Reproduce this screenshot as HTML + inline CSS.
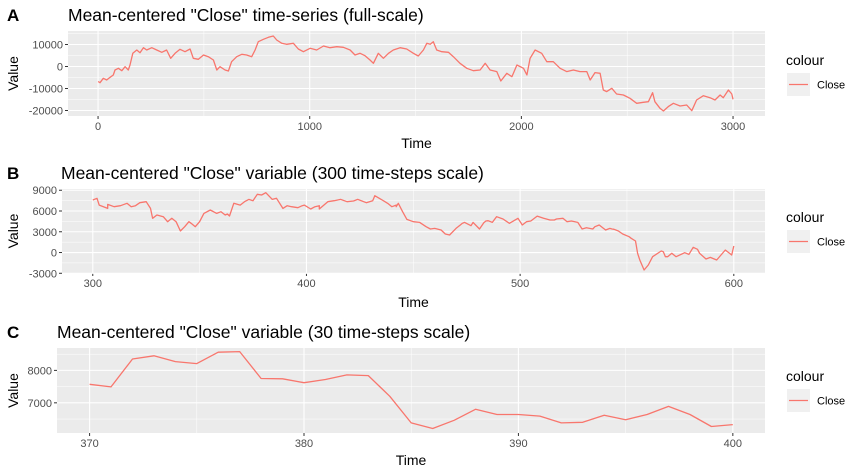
<!DOCTYPE html>
<html><head><meta charset="utf-8"><style>
html,body{margin:0;padding:0;background:#fff;}
svg{display:block;font-family:"Liberation Sans",Arial,sans-serif;}
</style></head><body>
<svg id="chart" width="863" height="475" viewBox="0 0 863 475" xmlns="http://www.w3.org/2000/svg"></svg>
<script>
// Panel A data (full-scale)
const stepsA=[0,9,25,41,57,72,80,96,112,128,143,151,164,183,198,214,230,254,277,301,324,343,364,387,411,435,450,474,498,521,545,561,576,600,616,631,655,679,702,726,742,757,781,805,828,844,868,891,923,946,970,1002,1033,1065,1096,1128,1159,1191,1214,1238,1261,1285,1301,1324,1348,1372,1395,1427,1458,1490,1513,1537,1553,1569,1584,1600,1624,1655,1679,1710,1742,1773,1805,1829,1852,1884,1903,1931,1955,1979,2010,2026,2041,2065,2096,2120,2151,2183,2214,2246,2277,2309,2325,2348,2372,2387,2403,2427,2450,2482,2513,2545,2576,2600,2620,2631,2655,2671,2694,2718,2750,2781,2805,2828,2860,2891,2915,2939,2954,2978,2994,3000];
const valuesA=[-6800,-7350,-5380,-6130,-4920,-3860,-1590,-830,-1890,-70,-1590,680,5990,7500,6290,8560,7500,8560,7500,6440,7500,3710,5990,7800,6740,7960,3710,3260,5230,4470,2960,-1590,-70,-1590,-2040,2200,4470,5530,5230,4470,7500,11290,12350,13260,13870,12050,10530,10080,10530,7960,6740,8260,7500,9320,8560,9020,8710,7500,5230,5990,4920,2960,1440,5990,3710,5990,7500,8560,7960,5990,4770,7500,10530,10080,11290,7500,6740,6440,4470,1440,-830,-1890,-1590,1440,-1590,-2340,-6590,-3100,-4620,680,-830,-3860,3710,7500,5990,2200,2200,-830,-2340,-1590,-2340,-2340,-6130,-2790,-3100,-10680,-11430,-9920,-12500,-12950,-14470,-16740,-16280,-15980,-11890,-15980,-19010,-20220,-18250,-16740,-17950,-17500,-20070,-15220,-13260,-14160,-15220,-12950,-14160,-10680,-12500,-14920];
const xTicksA=[0,1000,2000,3000];
const yTicksA=[-20000,-10000,0,10000];
// Panel B data (300 steps)
const stepsB=[300,302,303,307,307,310,313,316,318,320,322,325,327,328,330,333,335,336,337,339,341,343,345,346,348,350,352,355,358,360,362,363,364,366,369,371,373,375,377,379,381,384,386,389,391,393,396,398,399,402,404,406,406,410,413,416,419,422,424,428,431,432,435,438,440,442,442,443,445,447,450,453,456,458,460,463,465,467,470,472,473,474,477,478,481,483,484,485,487,489,492,495,499,501,503,505,508,511,514,516,517,520,522,524,527,529,531,534,535,537,540,542,543,544,546,548,551,552,554,555,556,558,560,562,566,567,568,569,571,573,577,579,581,583,584,587,589,592,594,596,598,599,600];
const valuesB=[7590,7830,6860,6380,6960,6620,6770,7110,6620,6770,7200,7350,6380,4940,5420,5180,4460,4700,4940,4460,3110,3730,4460,4220,3730,4460,5660,6140,5660,5900,5420,5560,5280,7110,6860,7350,7680,7490,8410,8310,8650,7680,7830,6380,6770,6620,6480,6770,6860,6290,6620,6770,6290,7350,7490,7680,7350,7440,7680,7200,7490,8210,7680,7110,6620,6860,6620,7110,5900,4790,4460,4360,3730,3400,3490,3250,2670,2530,3490,3970,4220,4360,3880,4360,3400,4310,4550,4600,4360,5180,4840,4220,4940,3970,4460,4550,5270,4940,4700,4700,4840,4940,4460,4550,4360,3400,3590,3400,3730,3970,3250,3490,3400,3350,3110,2670,2290,2050,1660,-120,-1080,-2530,-1810,-600,220,120,-600,-600,-120,-600,-20,-270,750,460,-120,-940,-700,-1080,-360,360,-120,-360,940,270,120];
const xTicksB=[300,400,500,600];
const yTicksB=[-3000,0,3000,6000,9000];
// Panel C data (30 steps)
const stepsC=[370,371,372,373,374,375,376,377,378,379,380,381,382,383,384,385,386,387,388,389,390,391,392,393,394,395,396,397,398,399,400];
const valuesC=[7570,7490,8350,8450,8270,8210,8560,8580,7750,7740,7620,7720,7860,7840,7200,6380,6210,6460,6800,6640,6640,6590,6380,6400,6620,6480,6640,6890,6640,6270,6330];
const xTicksC=[370,380,390,400];
const yTicksC=[7000,8000];

const NS="http://www.w3.org/2000/svg";
const svg=document.getElementById('chart');
function mk(tag,attrs,parent){const e=document.createElementNS(NS,tag);for(const k in attrs)e.setAttribute(k,attrs[k]);(parent||svg).appendChild(e);return e;}

function panel(cfg){
  const g=mk('g',{});
  
  
  const L=cfg.left,R=765,T=cfg.top,B=cfg.bottom;
  const sx=v=>L+(v-cfg.xmin)/(cfg.xmax-cfg.xmin)*(R-L);
  const sy=v=>B-(v-cfg.ymin)/(cfg.ymax-cfg.ymin)*(B-T);
  const bg=mk('rect',{x:L,y:T,width:R-L,height:B-T,fill:'#ebebeb'},g);
  
  
  for(let i=0;i<cfg.xt.length-1;i++){const m=(cfg.xt[i]+cfg.xt[i+1])/2;mk('line',{x1:sx(m),x2:sx(m),y1:T,y2:B,stroke:'#fff','stroke-width':0.5},g);}
  const ym=[];for(let i=0;i<cfg.yt.length-1;i++)ym.push((cfg.yt[i]+cfg.yt[i+1])/2);
  const st=cfg.yt[1]-cfg.yt[0];
  ym.push(cfg.yt[0]-st/2);ym.push(cfg.yt[cfg.yt.length-1]+st/2);
  ym.forEach(m=>{if(m>cfg.ymin&&m<cfg.ymax)mk('line',{x1:L,x2:R,y1:sy(m),y2:sy(m),stroke:'#fff','stroke-width':0.5},g);});
  cfg.xt.forEach(t=>{
    mk('line',{x1:sx(t),x2:sx(t),y1:T,y2:B,stroke:'#fff','stroke-width':1.1},g);
    mk('line',{x1:sx(t),x2:sx(t),y1:B,y2:B+3,stroke:'#333','stroke-width':1},g);
    const tx=mk('text',{x:sx(t),y:B+14,'text-anchor':'middle','font-size':11,fill:'#4d4d4d'},g);tx.textContent=t;
    
    
  });
  cfg.yt.forEach(t=>{
    mk('line',{x1:L,x2:R,y1:sy(t),y2:sy(t),stroke:'#fff','stroke-width':1.1},g);
    mk('line',{x1:L-3,x2:L,y1:sy(t),y2:sy(t),stroke:'#333','stroke-width':1},g);
    const tx=mk('text',{x:L-5,y:sy(t)+4,'text-anchor':'end','font-size':11,fill:'#4d4d4d'},g);tx.textContent=t;
    
    
  });
  const pts=cfg.xs.map((x,i)=>sx(x).toFixed(1)+','+sy(cfg.ys[i]).toFixed(1)).join(' ');
  const ln=mk('polyline',{points:pts,fill:'none',stroke:'#F8766D','stroke-width':1.3,'stroke-linejoin':'round'},g);
  
  
  const tl=mk('text',{x:cfg.titleX,y:cfg.titleY,'font-size':17.5,fill:'#000'},g);tl.textContent=cfg.title;
  
  
  const lb=mk('text',{x:7,y:cfg.titleY,'font-size':17,'font-weight':'bold',fill:'#000'},g);lb.textContent=cfg.id;
  
  
  const xt=mk('text',{x:(L+R)/2,y:cfg.timeY,'text-anchor':'middle','font-size':14,fill:'#000'},g);xt.textContent='Time';
  
  
  const cy=(T+B)/2;
  const yt=mk('text',{x:18,y:cy,'text-anchor':'middle','font-size':14,fill:'#000',transform:'rotate(-90 18 '+cy+')'},g);yt.textContent='Value';
  
  
  const lg=mk('g',{},g);
  
  
  const ct=mk('text',{x:786,y:cfg.legY+5,'font-size':14,fill:'#000'},lg);ct.textContent='colour';
  
  
  mk('rect',{x:787,y:cfg.legY+13,width:23,height:23,fill:'#f0f0f0'},lg);
  const ly=Math.round(cfg.legY+24)+0.5;
  mk('line',{x1:789,x2:808,y1:ly,y2:ly,stroke:'#F8766D','stroke-width':1.3},lg);
  const cl=mk('text',{x:817,y:cfg.legY+28.5,'font-size':11,fill:'#000'},lg);cl.textContent='Close';
  
  
}

panel({id:'A',left:68,top:31,bottom:116,xmin:-142,xmax:3151,ymin:-22500,ymax:16136,xt:xTicksA,yt:yTicksA,xs:stepsA,ys:valuesA,
  title:'Mean-centered "Close" time-series (full-scale)',titleX:68,titleY:21,timeY:148,legY:60});
panel({id:'B',left:62,top:189,bottom:273,xmin:285.6,xmax:614.6,ymin:-2960,ymax:9180,xt:xTicksB,yt:yTicksB,xs:stepsB,ys:valuesB,
  title:'Mean-centered "Close" variable (300 time-steps scale)',titleX:61,titleY:179,timeY:307,legY:217});
panel({id:'C',left:57,top:348,bottom:433,xmin:368.48,xmax:401.5,ymin:6070,ymax:8690,xt:xTicksC,yt:yTicksC,xs:stepsC,ys:valuesC,
  title:'Mean-centered "Close" variable (30 time-steps scale)',titleX:57,titleY:338,timeY:465,legY:376});
</script>
</body></html>
